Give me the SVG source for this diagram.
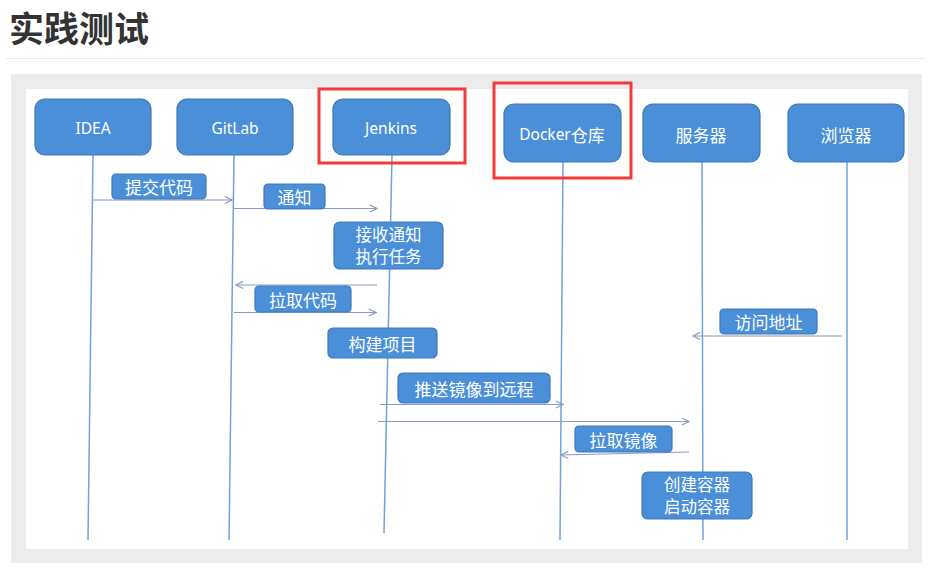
<svg xmlns="http://www.w3.org/2000/svg" width="930" height="570" viewBox="0 0 930 570">
<style>
.title{font-family:"Noto Sans CJK SC","Noto Sans",sans-serif;font-size:35px;font-weight:bold;fill:#333}
.node rect{fill:#4a8fd8;stroke:#3d78b8;stroke-width:1.2}
.nt{font-family:"Noto Sans","Noto Sans CJK SC",sans-serif;font-size:15.5px;fill:#fff;text-anchor:middle;dominant-baseline:central}
.ntc{font-family:"Noto Sans CJK SC",sans-serif;font-size:17px;fill:#fff;text-anchor:middle;dominant-baseline:central}
.lbl rect{fill:#4a8fd8;stroke:#3d78b8;stroke-width:1.2}
.lt{font-family:"Noto Sans CJK SC",sans-serif;font-size:17px;fill:#fff;text-anchor:middle;dominant-baseline:central}
.lt2{font-family:"Noto Sans CJK SC",sans-serif;font-size:16.5px;fill:#fff;text-anchor:middle}
.life{stroke:#6fa3da;stroke-width:1.5;fill:none}
.msg{stroke:#8a9cc2;stroke-width:1.2;fill:none}
.red{fill:none;stroke:#f23a3a;stroke-width:3}
</style>
<defs>
<marker id="ah" viewBox="0 0 10 10" refX="9" refY="5" markerWidth="9" markerHeight="9" markerUnits="userSpaceOnUse" orient="auto">
<path d="M1,1 L9,5 L1,9" fill="none" stroke="#8a9cc2" stroke-width="1.3"/>
</marker>
</defs>
<rect width="930" height="570" fill="#fff"/>
<text class="title" x="9" y="42">实践测试</text>
<line x1="6" y1="58.5" x2="925" y2="58.5" stroke="#e8e8e8" stroke-width="1"/>
<rect x="11" y="74" width="911" height="489" fill="#ececee"/>
<rect x="26" y="89" width="882" height="460" fill="#fff"/>

<g id="lifelines">
<line class="life" x1="93" y1="155" x2="88" y2="540"/>
<line class="life" x1="234" y1="155" x2="229" y2="540"/>
<line class="life" x1="392" y1="155" x2="384" y2="533"/>
<line class="life" x1="563" y1="162" x2="560" y2="540"/>
<line class="life" x1="702" y1="162" x2="703" y2="540"/>
<line class="life" x1="847" y1="162" x2="847" y2="540"/>
</g>

<g id="idea" class="node"><rect x="35" y="99" width="116" height="56" rx="10"/><text class="nt" x="93" y="128">IDEA</text></g>
<g id="gitlab" class="node"><rect x="177" y="99" width="116" height="56" rx="10"/><text class="nt" x="235" y="128">GitLab</text></g>
<g id="jenkins" class="node"><rect x="333" y="99" width="117" height="56" rx="10"/><text class="nt" x="391" y="128">Jenkins</text></g>
<g id="docker" class="node"><rect x="504" y="104" width="117" height="58" rx="10"/><text class="nt" x="562" y="134">Docker<tspan style="font-family:'Noto Sans CJK SC',sans-serif;font-size:17px">仓库</tspan></text></g>
<g id="server" class="node"><rect x="643" y="104" width="117" height="58" rx="10"/><text class="ntc" x="701" y="134">服务器</text></g>
<g id="browser" class="node"><rect x="788" y="104" width="116" height="58" rx="10"/><text class="ntc" x="846" y="134">浏览器</text></g>

<rect class="red" x="319" y="89" width="146" height="74"/>
<rect class="red" x="494" y="83" width="137" height="95"/>

<g id="connectors">
<line class="msg" x1="93" y1="200" x2="232" y2="200" marker-end="url(#ah)"/>
<line class="msg" x1="234" y1="208.5" x2="377" y2="208.5" marker-end="url(#ah)"/>
<line class="msg" x1="377" y1="285" x2="236" y2="285" marker-end="url(#ah)"/>
<line class="msg" x1="234" y1="312.5" x2="376" y2="312.5" marker-end="url(#ah)"/>
<line class="msg" x1="380" y1="404.5" x2="563" y2="404.5" marker-end="url(#ah)"/>
<line class="msg" x1="378" y1="421.5" x2="689" y2="421.5" marker-end="url(#ah)"/>
<line class="msg" x1="689" y1="452" x2="561" y2="455" marker-end="url(#ah)"/>
<line class="msg" x1="842" y1="336" x2="693" y2="336" marker-end="url(#ah)"/>
</g>

<g id="l-commit" class="lbl"><rect x="112" y="174" width="94" height="25" rx="4"/><text class="lt" x="159" y="186.5">提交代码</text></g>
<g id="l-notify" class="lbl"><rect x="264" y="184" width="61" height="25" rx="4"/><text class="lt" x="294.5" y="196.5">通知</text></g>
<g id="l-receive" class="lbl"><rect x="334" y="222" width="109" height="47" rx="6"/><text class="lt2" x="388.5" y="240.5">接收通知<tspan x="388.5" dy="22.5">执行任务</tspan></text></g>
<g id="l-pull" class="lbl"><rect x="255" y="286" width="96" height="26" rx="4"/><text class="lt" x="303" y="299">拉取代码</text></g>
<g id="l-build" class="lbl"><rect x="328" y="328" width="109" height="30" rx="5"/><text class="lt" x="382.5" y="343">构建项目</text></g>
<g id="l-push" class="lbl"><rect x="398" y="373" width="152" height="30" rx="5"/><text class="lt" x="474" y="388">推送镜像到远程</text></g>
<g id="l-pullimg" class="lbl"><rect x="575" y="426" width="97" height="26" rx="4"/><text class="lt" x="623.5" y="439">拉取镜像</text></g>
<g id="l-visit" class="lbl"><rect x="720" y="309" width="97" height="25" rx="4"/><text class="lt" x="768.5" y="321.5">访问地址</text></g>
<g id="l-create" class="lbl"><rect x="642" y="472" width="110" height="47" rx="6"/><text class="lt2" x="697" y="490.5">创建容器<tspan x="697" dy="22.5">启动容器</tspan></text></g>
</svg>
